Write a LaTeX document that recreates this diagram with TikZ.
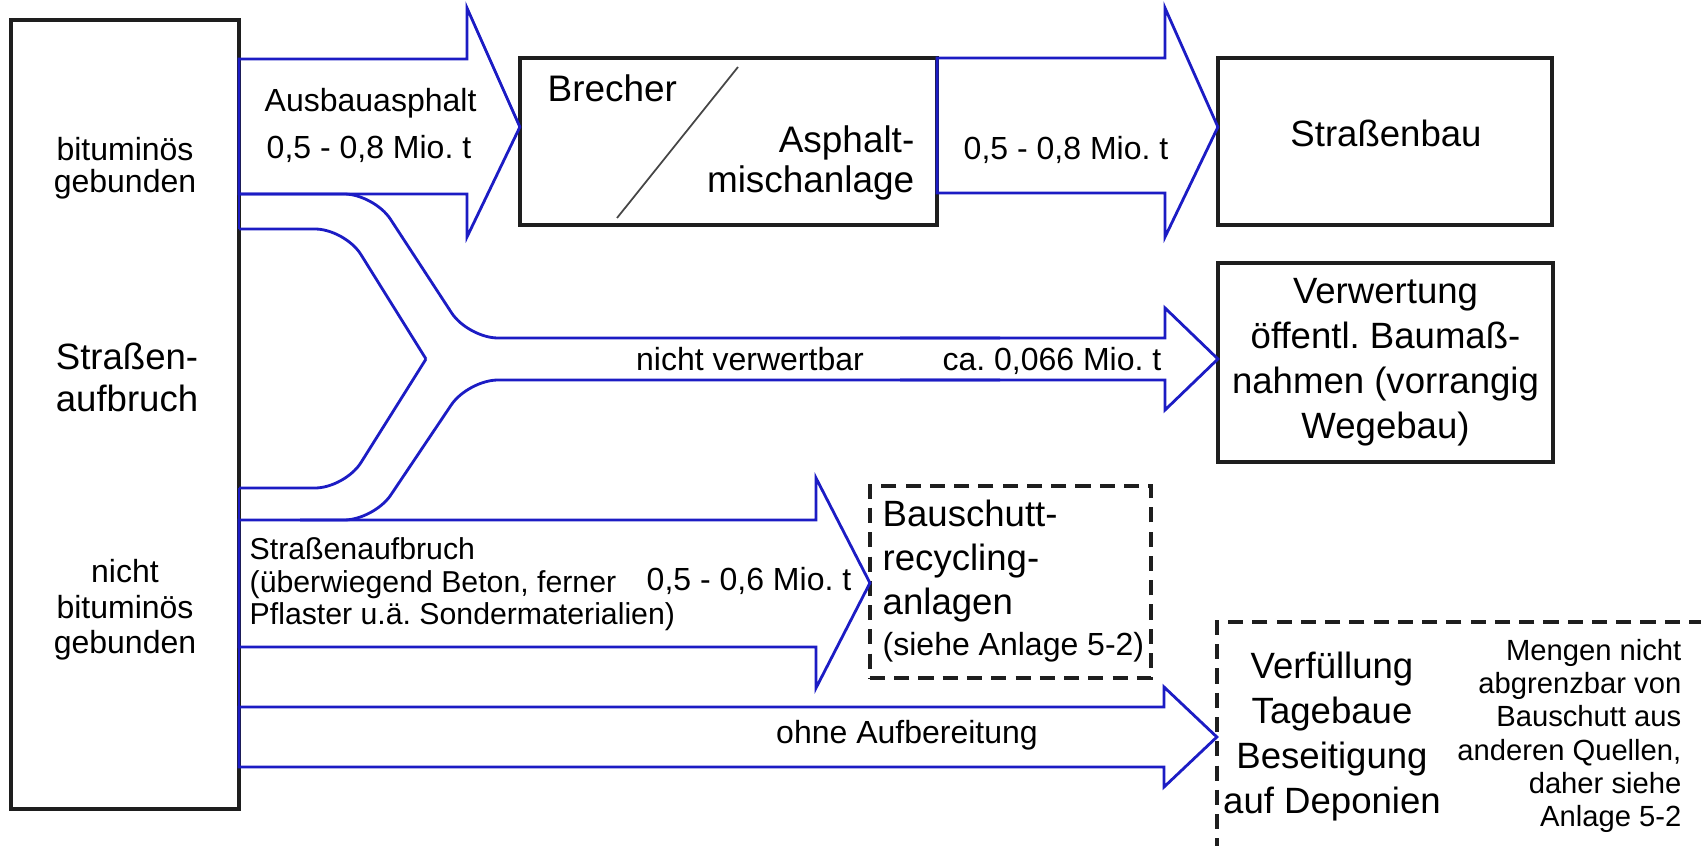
\documentclass[tikz,border=0pt]{standalone}
\usepackage{fontspec}
\setmainfont{Liberation Sans}
\usetikzlibrary{positioning}
\definecolor{flowBlue}{RGB}{28, 28, 196}
\definecolor{boxBlack}{RGB}{30, 30, 30}
\definecolor{slashGray}{RGB}{70, 70, 70}

\tikzset{
  box/.style={draw=boxBlack, line width=1pt, inner sep=0pt, outer sep=0pt},
  dbox/.style={box, dash pattern=on 4.3pt off 2.6pt},
  flow/.style={draw=flowBlue, line width=0.8pt},
  lbl/.style={inner sep=0pt, font=\fontsize{9.1}{10}\selectfont},
  big/.style={inner sep=0pt, font=\fontsize{10.4}{12.8}\selectfont},
}

\begin{document}
\frenchspacing
\begin{tikzpicture}[x=0.01cm, y=-0.01cm]
  \useasboundingbox (0,0) rectangle (1701,846);
  \clip (0,0) rectangle (1701,846);

  % boxes
  \node[box, minimum width=2.28cm, minimum height=7.89cm] (src) at (125,414.5) {};
  \node[box, minimum width=4.17cm, minimum height=1.67cm] (brecher) at (728.5,141.5) {};
  \node[box, minimum width=3.34cm, minimum height=1.67cm] (strbau) at (1385,141.5) {};
  \node[box, big, align=center, minimum width=3.35cm, minimum height=1.99cm] (verw) at (1385.5,362.5) {Verwertung\\öffentl. Baumaß-\\nahmen (vorrangig\\Wegebau)};
  \node[dbox, minimum width=2.81cm, minimum height=1.92cm] (bsr) at (1010.5,582) {};
  \node[dbox, minimum width=5.4cm, minimum height=2.8cm] (verf) at (1487,762) {};

  \draw[slashGray, line width=0.5pt] (738,67) -- (617,218);

  % texts in the source box
  \node[lbl, anchor=north, align=center, font=\fontsize{9.1}{9.1}\selectfont] (bitu) at (125,137) {bituminös\\gebunden};
  \node[big, anchor=north, align=center, font=\fontsize{10.4}{11.95}\selectfont] (strab) at (127,342) {Straßen-\\aufbruch};
  \node[lbl, anchor=north, align=center, font=\fontsize{9.1}{10.1}\selectfont] (nbitu) at (125,559) {nicht\\bituminös\\gebunden};

  % flows
  \draw[flow] (src.east |- 0,59) -- (467,59) -- (467,8) -- (brecher.west |- 0,127) -- (467,237) -- (467,194) -- (src.east |- 0,194) -- cycle;
  \draw[flow] (brecher.east |- 0,58) -- (1165,58) -- (1165,8) -- (strbau.west |- 0,127) -- (1165,237) -- (1165,193) -- (brecher.east |- 0,193) -- cycle;

  \draw[flow] (src.east |- 0,194) -- (src.east |- 0,229);
  \draw[flow, rounded corners=0.3cm] (src.east |- 0,194) -- (374,194) -- (468,338) -- (1000,338);
  \draw[flow, rounded corners=0.3cm] (src.east |- 0,229) -- (345,229) -- (426,359);
  \draw[flow, rounded corners=0.3cm] (426,359) -- (345,488) -- (src.east |- 0,488);
  \draw[flow] (src.east |- 0,488) -- (src.east |- 0,520);
  \draw[flow, rounded corners=0.3cm] (1000,380) -- (468,380) -- (374,520) -- (300,520);
  \draw[flow] (900,338) -- (1165,338) -- (1165,308) -- (verw.west |- 0,359) -- (1165,410) -- (1165,380) -- (900,380);

  \draw[flow] (src.east |- 0,520) -- (816,520) -- (816,478) -- (bsr.west |- 0,583) -- (816,688) -- (816,647) -- (src.east |- 0,647) -- cycle;
  \draw[flow] (src.east |- 0,647) -- (src.east |- 0,707);
  \draw[flow] (src.east |- 0,707) -- (1164,707) -- (1164,687) -- (verf.west |- 0,737) -- (1164,787) -- (1164,767) -- (src.east |- 0,767) -- cycle;

  % labels
  \node[lbl, anchor=base west] (ausb) at (264,112) {Ausbauasphalt};
  \node[lbl, anchor=base west] (menge1) at (266,159) {0,5 - 0,8 Mio. t};
  \node[big, anchor=base west, font=\fontsize{10.5}{11.4}\selectfont] (brtxt) at (547,102) {Brecher};
  \node[big, anchor=north east, align=right, font=\fontsize{10.5}{11.4}\selectfont] (amtxt) at (915,125) {Asphalt-\\mischanlage};
  \node[lbl, anchor=base west] (menge2) at (963,160) {0,5 - 0,8 Mio. t};
  \node[big, anchor=base] (sbtxt) at (1386,147) {Straßenbau};
  \node[lbl, anchor=base] (nv) at (750,370) {nicht verwertbar};
  \node[lbl, anchor=base east] (menge3) at (1162,370) {ca. 0,066 Mio. t};
  \node[lbl, anchor=north west, align=left, font=\fontsize{8.6}{9.25}\selectfont] (satxt) at (249,537) {Straßenaufbruch\\(überwiegend Beton, ferner\\Pflaster u.ä. Sondermaterialien)};
  \node[lbl, anchor=base west] (menge4) at (646,590) {0,5 - 0,6 Mio. t};
  \node[big, anchor=north west, align=left, font=\fontsize{10.4}{12.5}\selectfont] (bsrtxt) at (882,499) {Bauschutt-\\recycling-\\anlagen};
  \node[lbl, anchor=base west] (siehe) at (882,655) {(siehe Anlage 5-2)};
  \node[lbl, anchor=base] (ohne) at (907,743) {ohne Aufbereitung};
  \node[big, anchor=north, align=center] (verftxt) at (1332,651) {Verfüllung\\Tagebaue\\Beseitigung\\auf Deponien};
  \node[lbl, anchor=north east, align=right, font=\fontsize{8.3}{9.4}\selectfont] (note) at (1682,639) {Mengen nicht\\abgrenzbar von\\Bauschutt aus\\anderen Quellen,\\daher siehe\\Anlage 5-2};
\end{tikzpicture}
\end{document}
